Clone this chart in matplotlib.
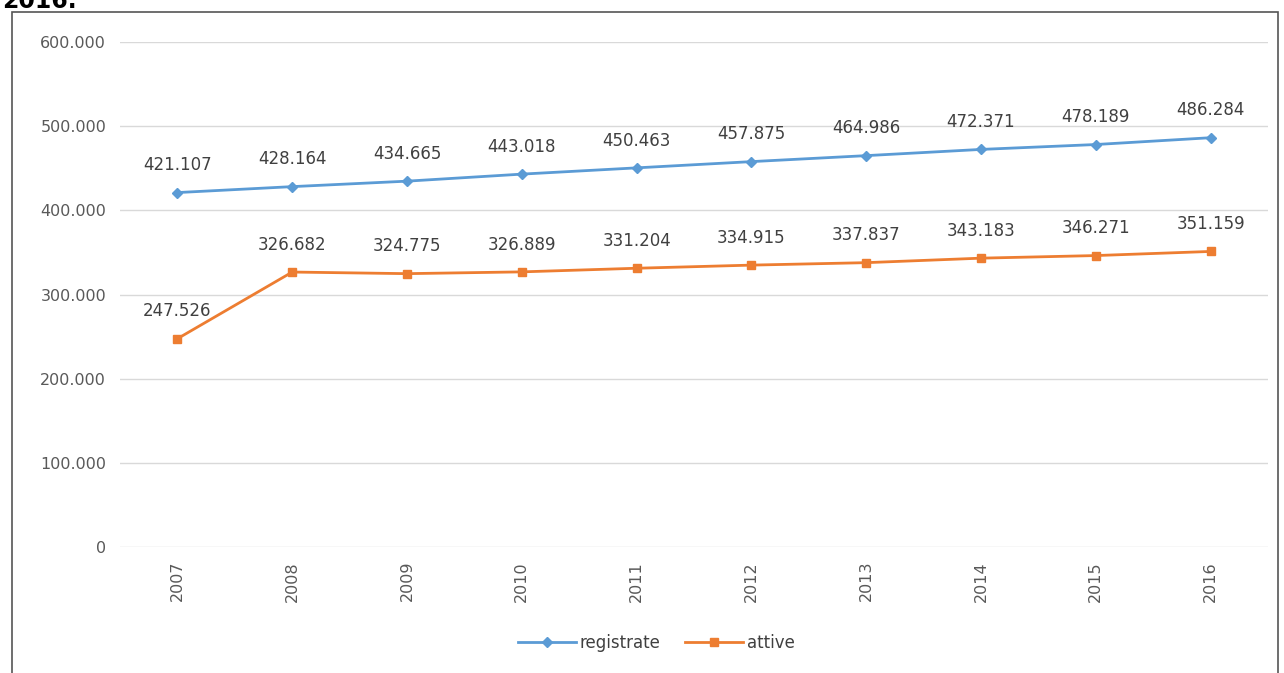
import matplotlib.pyplot as plt
from matplotlib.patches import Rectangle

years = ['2007', '2008', '2009', '2010', '2011', '2012', '2013', '2014', '2015', '2016']
registrate = [421107, 428164, 434665, 443018, 450463, 457875, 464986, 472371, 478189, 486284]
attive = [247526, 326682, 324775, 326889, 331204, 334915, 337837, 343183, 346271, 351159]


def it_fmt(v):
    return '{:,}'.format(int(v)).replace(',', '.')


fig = plt.figure(figsize=(12.84, 6.73), dpi=100)
ax = fig.add_axes([0.0935, 0.1872, 0.894, 0.7504])

x = list(range(len(years)))
ax.plot(x, registrate, color='#5B9BD5', lw=2, marker='D', ms=5, label='registrate')
ax.plot(x, attive, color='#ED7D31', lw=2, marker='s', ms=6, label='attive')

for i in x:
    ax.annotate(it_fmt(registrate[i]), (i, registrate[i]), xytext=(0, 16), textcoords='offset points',
                ha='center', fontsize=12, color='#404040')
    ax.annotate(it_fmt(attive[i]), (i, attive[i]), xytext=(0, 16), textcoords='offset points',
                ha='center', fontsize=12, color='#404040')

ax.set_xlim(-0.5, len(years) - 0.5)
ax.set_ylim(0, 600000)
ax.set_yticks(range(0, 600001, 100000))
ax.set_yticklabels([it_fmt(v) for v in range(0, 600001, 100000)], fontsize=11.5, color='#595959')
ax.set_xticks(x)
ax.set_xticklabels(years, rotation=90, fontsize=11.5, color='#595959')
ax.tick_params(length=0, pad=10)
ax.grid(axis='y', color='#D9D9D9', lw=1)
ax.set_axisbelow(True)
for s in ax.spines.values():
    s.set_visible(False)

# legenda sotto il grafico, leggermente spostata a sinistra come nell'originale
ax.legend(loc='center', bbox_to_anchor=(0.467, -0.19), ncol=2, frameon=False, fontsize=12,
          handlelength=3.5, columnspacing=1.5, handletextpad=0.2, labelcolor='#404040')

fig.patches.append(Rectangle((12 / 1284, -0.01), 1266 / 1284, 1 - 12 / 673 + 0.01,
                             transform=fig.transFigure, fill=False, ec='#555555', lw=1.2))
fig.text(2 / 1284, 1 - 13 / 673, '2016.', fontsize=17, fontweight='bold', va='bottom', ha='left')

fig.savefig('out.png', dpi=100)
